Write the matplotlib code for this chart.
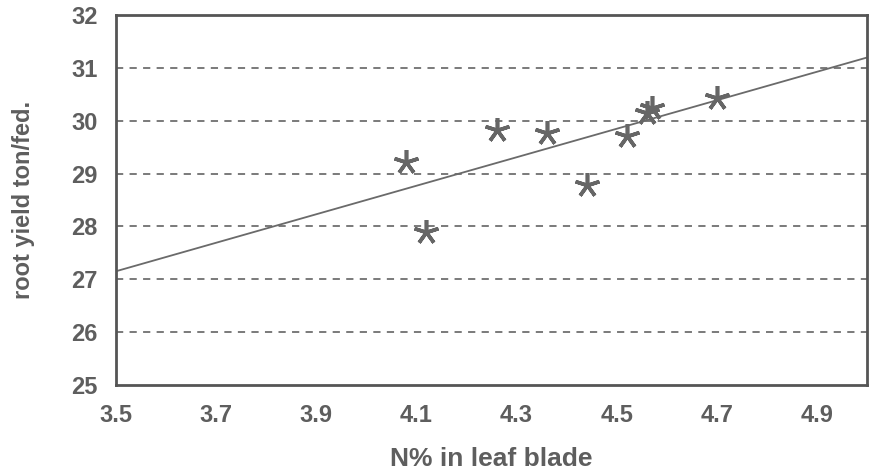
import numpy as np
import matplotlib
matplotlib.use('Agg')
import matplotlib.pyplot as plt

plt.rcParams['font.family'] = ['Liberation Sans', 'DejaVu Sans']

# readings from the scan
n_leaf = [4.08, 4.12, 4.26, 4.36, 4.44, 4.52, 4.56, 4.57, 4.70]
root_yield = [29.22, 27.90, 29.83, 29.76, 28.79, 29.71, 30.15, 30.25, 30.43]
trend_x = [3.5, 5.0]
trend_y = [27.15, 31.20]
xticks = [3.5, 3.7, 3.9, 4.1, 4.3, 4.5, 4.7, 4.9]
yticks = [25, 26, 27, 28, 29, 30, 31, 32]

grey = '#5e5e5e'

fig = plt.figure(figsize=(8.7, 4.74), dpi=100)
ax = fig.add_axes([0.133, 0.188, 0.864, 0.780])

for yv in yticks[1:-1]:
    ax.axhline(yv, color='#707070', lw=1.3, ls=(0, (4, 3.5)), zorder=1)

ax.plot(trend_x, trend_y, color='#6a6a6a', lw=1.3, zorder=2)
ax.plot(n_leaf, root_yield, ls='none', marker=(5, 2, 0), ms=18, mew=2.6,
        mec='#666666', color='#666666', zorder=3)

ax.set_xlim(3.5, 5.0)
ax.set_ylim(25, 32)
ax.set_xticks(xticks)
ax.set_xticklabels([f'{v:.1f}' for v in xticks])
ax.set_yticks(yticks)
ax.tick_params(length=0, labelsize=17, labelcolor=grey)
ax.tick_params(axis='y', pad=13)
ax.tick_params(axis='x', pad=14)
for lab in ax.get_xticklabels() + ax.get_yticklabels():
    lab.set_fontweight('bold')

for s in ax.spines.values():
    s.set_color('#555555')
    s.set_linewidth(2)

ax.set_xlabel('N% in leaf blade', fontsize=19, color=grey, fontweight='bold', labelpad=14)
ax.set_ylabel('root yield ton/fed.', fontsize=17, color=grey, fontweight='bold', labelpad=26)

fig.savefig('out.png', dpi=100)
